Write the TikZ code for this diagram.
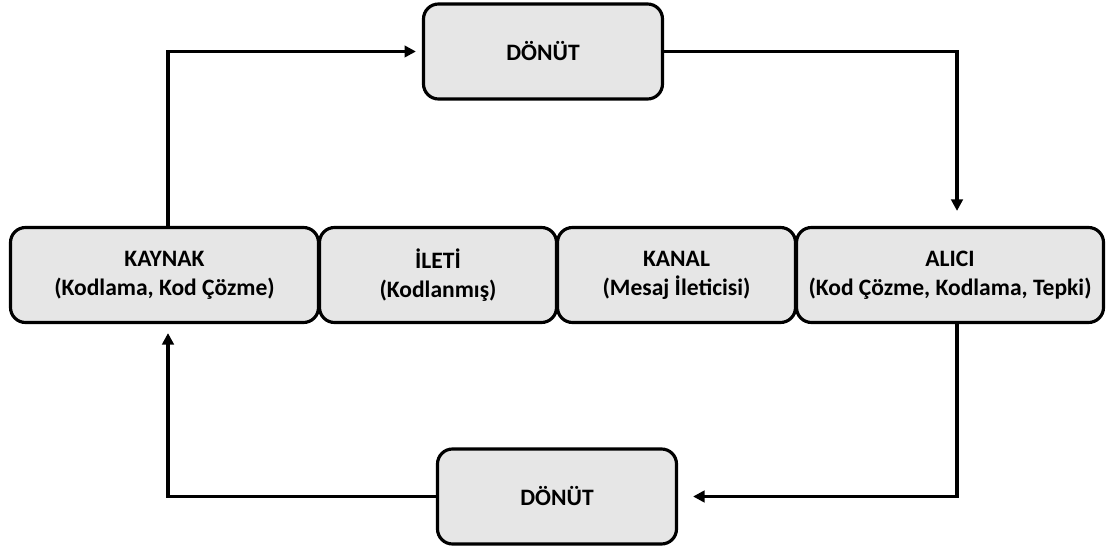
\documentclass[tikz,border=0pt]{standalone}
\usepackage{fontspec}
\setmainfont{Carlito}
\usetikzlibrary{arrows.meta}
\definecolor{boxgray}{HTML}{E6E6E6}
\begin{document}
\begin{tikzpicture}[
	box/.style={draw=black, line width=1.8pt, fill=boxgray, rounded corners=0.3cm,
		minimum height=1.9cm, align=center, inner sep=0pt,
		font=\fontsize{13.4}{16.4}\selectfont\bfseries},
	conn/.style={black, line width=1.8pt, -{Triangle[length=6.5pt, width=6.5pt]}}
	]
	        \useasboundingbox (0, 0) rectangle (22.26, -10.98);
	        \node [box, minimum width=4.78cm] at (10.86, -1.03) (ust) {DÖNÜT};
	        \node [box, minimum width=6.16cm] at (3.29, -5.50) (kaynak) {KAYNAK\\(Kodlama, Kod Çözme)};
	        \node [box, minimum width=4.74cm] at (8.76, -5.50) (ileti) {İLETİ\\(Kodlanmış)};
	        \node [box, minimum width=4.76cm] at (13.53, -5.50) (kanal) {KANAL\\(Mesaj İleticisi)};
	        \node [box, minimum width=6.14cm] at (19.00, -5.50) (alici) {ALICI\\(Kod Çözme, Kodlama, Tepki)};
	        \node [box, minimum width=4.78cm] at (11.14, -9.93) (alt) {DÖNÜT};
	        
	        \coordinate (tl) at (3.36, -1.03);
	        \coordinate (tr) at (19.14, -1.03);
	        \coordinate (br) at (19.14, -9.93);
	        \coordinate (bl) at (3.36, -9.93);
	        
	        \draw [conn, shorten >=0.12cm] (tl |- kaynak.north) -- (tl) -- (ust.west);
	        \draw [conn, shorten >=0.3cm] (ust.east) -- (tr) -- (tr |- alici.north);
	        \draw [conn, shorten >=0.3cm] (tr |- alici.south) -- (br) -- (alt.east);
	        \draw [conn, shorten >=0.18cm] (alt.west) -- (bl) -- (bl |- kaynak.south);
\end{tikzpicture}
\end{document}
